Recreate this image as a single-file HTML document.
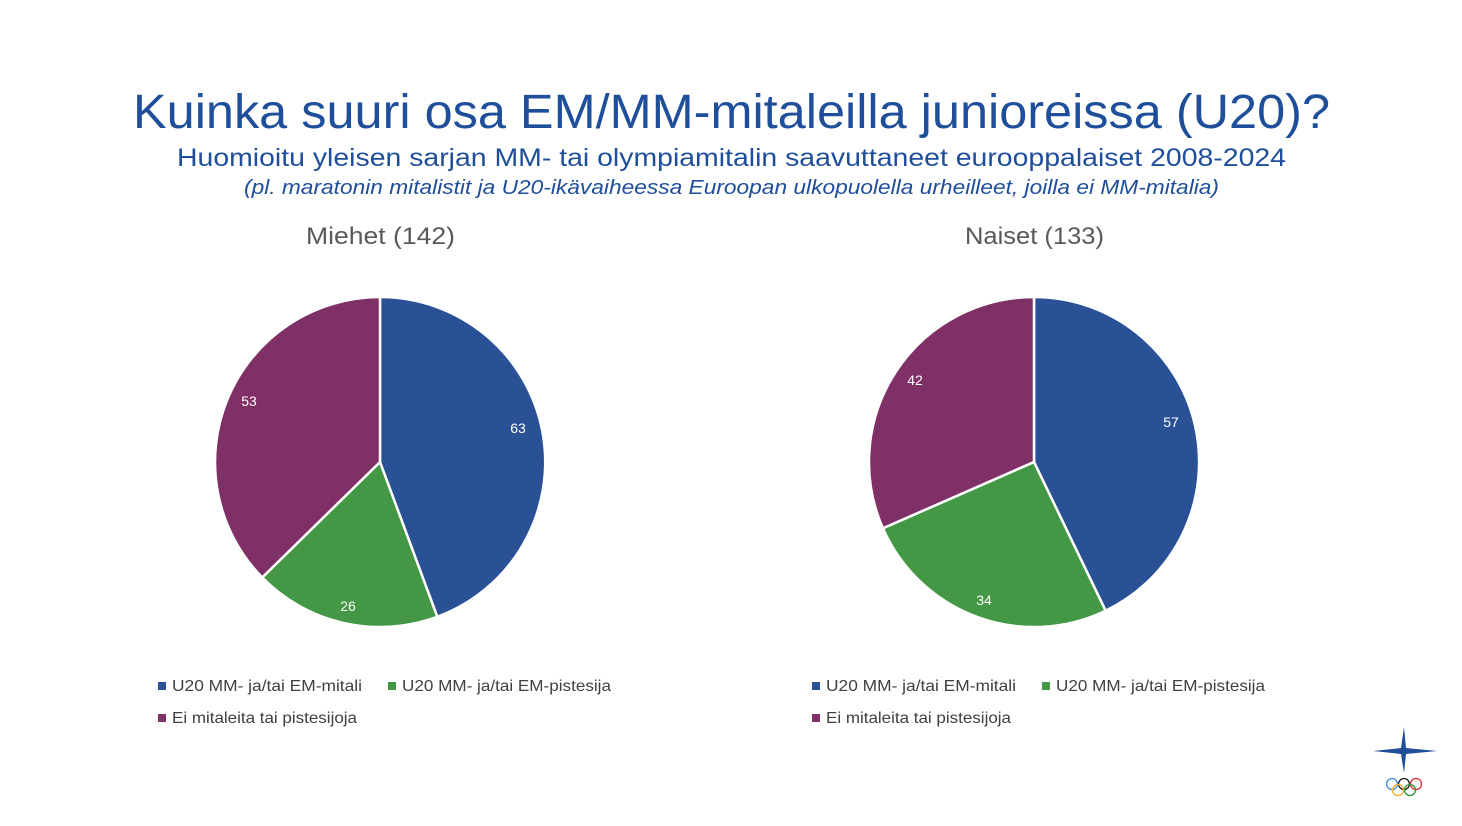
<!DOCTYPE html>
<html><head><meta charset="utf-8"><style>
body{margin:0;background:#fff;}
svg text{font-family:"Liberation Sans",sans-serif;}
</style></head><body>
<svg width="1462" height="821" viewBox="0 0 1462 821" xmlns="http://www.w3.org/2000/svg">
<rect width="1462" height="821" fill="#fff"/>
<text x="133" y="128" font-size="48" fill="#1f4e9a" textLength="1197" lengthAdjust="spacingAndGlyphs">Kuinka suuri osa EM/MM-mitaleilla junioreissa (U20)?</text>
<text x="177" y="166" font-size="25" fill="#1f4e9a" textLength="1109" lengthAdjust="spacingAndGlyphs">Huomioitu yleisen sarjan MM- tai olympiamitalin saavuttaneet eurooppalaiset 2008-2024</text>
<text x="244" y="194" font-size="20" font-style="italic" fill="#1f4e9a" textLength="975" lengthAdjust="spacingAndGlyphs">(pl. maratonin mitalistit ja U20-ikävaiheessa Euroopan ulkopuolella urheilleet, joilla ei MM-mitalia)</text>
<text x="306" y="244" font-size="24" fill="#595959" textLength="149" lengthAdjust="spacingAndGlyphs">Miehet (142)</text>
<text x="965" y="244" font-size="24" fill="#595959" textLength="139" lengthAdjust="spacingAndGlyphs">Naiset (133)</text>
<g stroke="#fff" stroke-width="2.5" stroke-linejoin="round">
<path d="M380,462 L380,297 A165,165 0 0 1 437.3,616.8 Z" fill="#2a5096"/>
<path d="M380,462 L437.3,616.8 A165,165 0 0 1 262.2,577.5 Z" fill="#449845"/>
<path d="M380,462 L262.2,577.5 A165,165 0 0 1 380,297 Z" fill="#7f3067"/>
<path d="M1034,462 L1034,297 A165,165 0 0 1 1105.6,610.7 Z" fill="#2a5096"/>
<path d="M1034,462 L1105.6,610.7 A165,165 0 0 1 882.9,528.3 Z" fill="#449845"/>
<path d="M1034,462 L882.9,528.3 A165,165 0 0 1 1034,297 Z" fill="#7f3067"/>
</g>
<g font-size="14" fill="#fff" text-anchor="middle">
<text x="518" y="433">63</text><text x="348" y="611">26</text><text x="249" y="406">53</text>
<text x="1171" y="427">57</text><text x="984" y="605">34</text><text x="915" y="385">42</text>
</g>
<g font-size="16" fill="#404040" lengthAdjust="spacingAndGlyphs">
<rect x="158" y="682" width="8" height="8" fill="#2a5096"/><text x="172" y="691" textLength="190" lengthAdjust="spacingAndGlyphs">U20 MM- ja/tai EM-mitali</text>
<rect x="388" y="682" width="8" height="8" fill="#449845"/><text x="402" y="691" textLength="209" lengthAdjust="spacingAndGlyphs">U20 MM- ja/tai EM-pistesija</text>
<rect x="158" y="714" width="8" height="8" fill="#7f3067"/><text x="172" y="723" textLength="185" lengthAdjust="spacingAndGlyphs">Ei mitaleita tai pistesijoja</text>
<rect x="812" y="682" width="8" height="8" fill="#2a5096"/><text x="826" y="691" textLength="190" lengthAdjust="spacingAndGlyphs">U20 MM- ja/tai EM-mitali</text>
<rect x="1042" y="682" width="8" height="8" fill="#449845"/><text x="1056" y="691" textLength="209" lengthAdjust="spacingAndGlyphs">U20 MM- ja/tai EM-pistesija</text>
<rect x="812" y="714" width="8" height="8" fill="#7f3067"/><text x="826" y="723" textLength="185" lengthAdjust="spacingAndGlyphs">Ei mitaleita tai pistesijoja</text>
</g>
<g fill="#1f4e9a">
<path d="M1404,727 L1406,748 L1437,751 L1406,754 L1404,773 L1401,754 L1373,751 L1401,748 Z"/>
</g>
<g fill="none" stroke-width="1.3">
<circle cx="1392" cy="784" r="5.5" stroke="#3b8fd6"/>
<circle cx="1404" cy="784" r="5.5" stroke="#222"/>
<circle cx="1416" cy="784" r="5.5" stroke="#e03030"/>
<circle cx="1398" cy="790" r="5.5" stroke="#f0b030"/>
<circle cx="1410" cy="790" r="5.5" stroke="#2a9a40"/>
</g>
</svg>
</body></html>
